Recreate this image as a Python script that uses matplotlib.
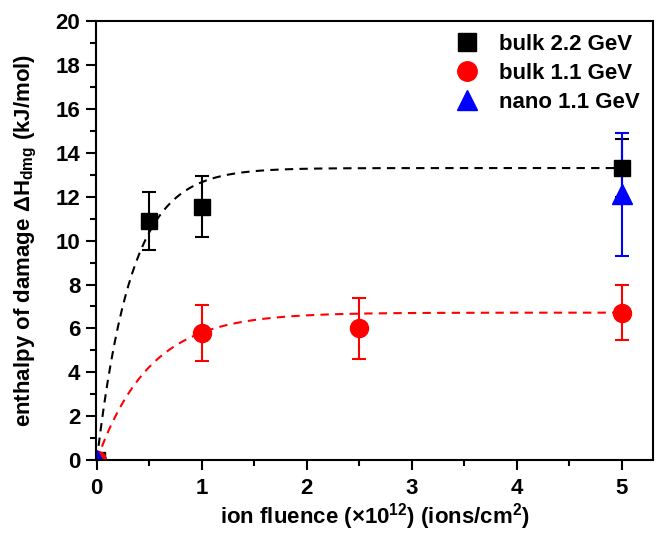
import numpy as np
import matplotlib
matplotlib.use('Agg')
import matplotlib.pyplot as plt
from matplotlib.ticker import MultipleLocator
from matplotlib.lines import Line2D

plt.rcParams['font.family'] = ['Liberation Sans', 'DejaVu Sans']
plt.rcParams['font.weight'] = 'bold'
plt.rcParams['mathtext.fontset'] = 'custom'
plt.rcParams['mathtext.rm'] = 'Liberation Sans:bold'
plt.rcParams['mathtext.bf'] = 'Liberation Sans:bold'
plt.rcParams['mathtext.default'] = 'bf'

# bulk 2.2 GeV
x_b22 = [0.0, 0.5, 1.0, 5.0]
y_b22 = [0.0, 10.9, 11.55, 13.3]
e_b22 = [0.0, 1.33, 1.37, 1.3]

# bulk 1.1 GeV
x_b11 = [0.0, 1.0, 2.5, 5.0]
y_b11 = [0.0, 5.8, 6.0, 6.72]
e_b11 = [0.0, 1.29, 1.4, 1.25]

# nano 1.1 GeV
x_n11 = [0.0, 5.0]
y_n11 = [0.0, 12.1]
e_n11 = [0.0, 2.8]

# saturation fit parameters: y = A * (1 - exp(-x / tau))
fit_b22 = (13.3, 0.33)
fit_b11 = (6.72, 0.5)

fig = plt.figure(figsize=(6.65, 5.34), dpi=100)
ax = fig.add_axes([0.144, 0.138, 0.838, 0.823])

xf = np.linspace(0, 5, 300)
for (A, tau), c in [(fit_b22, 'black'), (fit_b11, 'red')]:
    ax.plot(xf, A * (1 - np.exp(-xf / tau)), color=c, lw=1.5, dashes=(4, 3))

series = [
    (x_b22, y_b22, e_b22, 's', 'black', 12, 13, 'bulk 2.2 GeV'),
    (x_b11, y_b11, e_b11, 'o', 'red', 13, 14, 'bulk 1.1 GeV'),
    (x_n11, y_n11, e_n11, '^', 'blue', 14, 14, 'nano 1.1 GeV'),
]
handles = []
for x, y, e, m, c, ms, ms_leg, lab in series:
    ax.errorbar(x, y, yerr=e, fmt=m, color=c, ms=ms,
                capsize=5, elinewidth=1.5, capthick=1.5)
    handles.append(Line2D([], [], ls='none', marker=m, color=c, ms=ms_leg, label=lab))

ax.set_xlim(-0.01, 5.3)
ax.set_ylim(0, 20)
ax.xaxis.set_major_locator(MultipleLocator(1))
ax.xaxis.set_minor_locator(MultipleLocator(0.5))
ax.yaxis.set_major_locator(MultipleLocator(2))
ax.yaxis.set_minor_locator(MultipleLocator(1))
ax.tick_params(which='major', direction='out', length=7, width=1.5, labelsize=16)
ax.tick_params(which='minor', direction='out', length=4, width=1.5)
ax.tick_params(axis='x', which='major', pad=6)
ax.tick_params(axis='y', which='major', pad=4)
for s in ax.spines.values():
    s.set_linewidth(1.5)

ax.set_xlabel(r'ion fluence ($\times$10$^{12}$) (ions/cm$^{2}$)', fontsize=16,
              fontweight='bold', labelpad=1)
ax.set_ylabel(r'enthalpy of damage $\Delta$H$_{dmg}$ (kJ/mol)', fontsize=16,
              fontweight='bold', labelpad=12)

ax.legend(handles=handles, loc='upper right', frameon=False, fontsize=16,
          borderaxespad=0.2, handletextpad=0.85, labelspacing=0.35,
          handlelength=1.2)

fig.savefig('out.png', dpi=100)
